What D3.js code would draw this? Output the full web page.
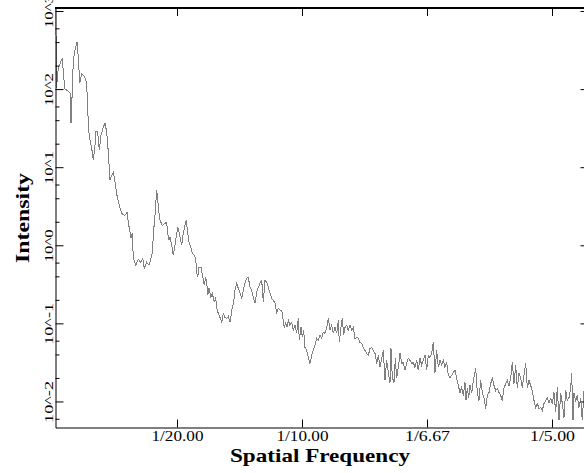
<!DOCTYPE html>
<html><head><meta charset="utf-8">
<script src="https://cdn.jsdelivr.net/npm/d3@7/dist/d3.min.js"></script>
<style>body{margin:0;background:#fff;} svg{display:block;}</style>
</head><body>
<script>
// ---- data ----
const frequency = [
0.0014,0.0018,0.00252,0.00412,0.0046,0.0052,0.00652,0.0072,0.0076,0.00812,
0.00852,0.0092,0.01,0.01052,0.01108,0.01188,0.01292,0.01372,0.01428,0.01452,
0.0152,0.01588,0.01652,0.0172,0.0176,0.01828,0.01892,0.0196,0.02052,0.0212,
0.02188,0.02252,0.0232,0.02388,0.02452,0.0252,0.02588,0.02652,0.0272,0.02812,
0.0292,0.03,0.03052,0.0316,0.03212,0.03252,0.03348,0.03452,0.03548,0.03628,
0.03692,0.03788,0.0388,0.0396,0.04012,0.04068,0.0412,0.04188,0.04228,0.0428,
0.0432,0.04412,0.0452,0.04588,0.04628,0.0468,0.0472,0.04788,0.04852,0.04948,
0.05028,0.0508,0.05132,0.05188,0.05252,0.0532,0.05372,0.05428,0.0548,0.0556,
0.05612,0.05692,0.05748,0.05788,0.05828,0.0588,0.0596,0.06012,0.06092,0.06148,
0.06188,0.06228,0.0628,0.0636,0.06412,0.06492,0.06548,0.06588,0.06652,0.0672,
0.06788,0.06852,0.0692,0.06988,0.07052,0.0712,0.07212,0.07268,0.0732,0.07388,
0.07452,0.0752,0.07588,0.07652,0.0772,0.07788,0.07852,0.0792,0.07988,0.08052,
0.0812,0.08188,0.08252,0.0832,0.08388,0.08452,0.0852,0.08588,0.08652,0.0872,
0.08788,0.08852,0.0892,0.08988,0.09052,0.0912,0.09188,0.09252,0.09292,0.09348,
0.094,0.09452,0.0952,0.09588,0.09652,0.0972,0.09788,0.09852,0.09892,0.0996,
0.10012,0.10068,0.1012,0.10188,0.10252,0.1032,0.10388,0.10452,0.1052,0.10588,
0.10652,0.1072,0.10788,0.10852,0.1092,0.10988,0.11052,0.1112,0.11188,0.11252,
0.1132,0.11388,0.11452,0.11492,0.1156,0.11612,0.11668,0.1172,0.11788,0.11852,
0.1192,0.11988,0.12052,0.1212,0.12188,0.12252,0.1232,0.12388,0.12452,0.1252,
0.12588,0.12652,0.1272,0.12788,0.12852,0.1292,0.12988,0.13052,0.1312,0.13188,
0.13252,0.1332,0.13388,0.13452,0.1352,0.1356,0.13612,0.1368,0.13732,0.13788,
0.13852,0.1392,0.13988,0.14052,0.1412,0.14188,0.14252,0.1432,0.14388,0.14452,
0.1452,0.14588,0.14652,0.1472,0.14788,0.14852,0.1492,0.14988,0.15052,0.1512,
0.15188,0.15252,0.1532,0.15388,0.15452,0.1552,0.15588,0.15652,0.1572,0.15788,
0.15852,0.1592,0.15988,0.16052,0.1612,0.16188,0.16252,0.1632,0.16388,0.16452,
0.1652,0.1656,0.16612,0.16668,0.1672,0.16788,0.16852,0.16948,0.17012,0.1708,
0.17148,0.17212,0.1728,0.17348,0.17412,0.1748,0.17548,0.17612,0.1768,0.17748,
0.17812,0.1788,0.17948,0.18012,0.1808,0.18148,0.18212,0.1828,0.18348,0.18412,
0.1848,0.18548,0.18612,0.1868,0.18748,0.18812,0.1888,0.18948,0.19012,0.1908,
0.19148,0.19212,0.1928,0.19348,0.19412,0.1948,0.19548,0.19612,0.1968,0.19748,
0.19812,0.1988,0.19948,0.20012,0.2008,0.20148,0.20212,0.2028,0.20348,0.20412,
0.2048,0.20548,0.20612,0.2068,0.20748,0.20788,0.2084,0.2088,0.20948,0.21012,
0.2108,0.21148,0.21212,0.2128,0.2136
];
const intensity = [
2500,103,186,250,151,100,94.3,88.9,36.6,97.1,
235,316,401,257,119,156,147,123,68.1,31.6,
22.2,17.5,12.3,19.1,28.9,28.1,16.5,25.7,32.6,36.6,
28.1,15.6,6.81,7.89,8.63,6.42,4.51,3.66,2.98,2.50,
2.42,2.65,1.97,1.23,1.43,0.681,0.554,0.662,0.605,0.681,
0.507,0.605,0.554,0.681,0.790,1.56,2.42,5.07,3.78,2.57,
2.09,1.80,1.91,1.97,1.43,1.16,1.27,1.00,0.744,1.16,
1.70,1.47,1.23,1.00,1.43,1.80,2.09,1.43,1.09,0.915,
0.790,0.744,0.681,0.451,0.389,0.522,0.522,0.425,0.307,0.389,
0.345,0.229,0.281,0.215,0.243,0.186,0.215,0.156,0.134,0.119,
0.103,0.134,0.119,0.116,0.123,0.103,0.160,0.186,0.265,0.326,
0.281,0.243,0.209,0.265,0.326,0.378,0.389,0.290,0.265,0.215,
0.181,0.250,0.290,0.326,0.356,0.186,0.356,0.336,0.290,0.243,
0.209,0.197,0.181,0.138,0.156,0.147,0.147,0.109,0.0863,0.103,
0.0889,0.109,0.0943,0.103,0.0813,0.0943,0.0745,0.116,0.0605,0.0889,
0.0662,0.0813,0.0492,0.0451,0.0366,0.0307,0.0389,0.0451,0.0522,0.0642,
0.0605,0.0702,0.0642,0.0767,0.0745,0.0889,0.116,0.0813,0.0943,0.0745,
0.0889,0.0745,0.109,0.0571,0.0889,0.116,0.0702,0.0889,0.0943,0.0813,
0.0943,0.0813,0.0889,0.0642,0.0662,0.0642,0.0571,0.0554,0.0492,0.0451,
0.0412,0.0389,0.0478,0.0492,0.0451,0.0412,0.0307,0.0389,0.0273,0.0356,
0.0451,0.0186,0.0336,0.0235,0.0175,0.0478,0.0203,0.0175,0.0356,0.0197,
0.0273,0.0412,0.0307,0.0316,0.0250,0.0316,0.0356,0.0336,0.0307,0.0316,
0.0273,0.0336,0.0250,0.0356,0.0290,0.0336,0.0389,0.0250,0.0389,0.0366,
0.0412,0.0571,0.0235,0.0451,0.0273,0.0336,0.0290,0.0336,0.0273,0.0316,
0.0215,0.0203,0.0215,0.0235,0.0250,0.0197,0.0160,0.0130,0.0151,0.0119,
0.0175,0.0103,0.0147,0.0112,0.0160,0.0127,0.0186,0.0265,0.0130,0.0103,
0.0186,0.0130,0.0112,0.00813,0.0119,0.0130,0.0170,0.0197,0.0160,0.0138,
0.0147,0.0130,0.0119,0.0103,0.0147,0.0170,0.0186,0.0160,0.0197,0.0316,
0.0170,0.0290,0.0151,0.0229,0.0197,0.0151,0.0215,0.0307,0.0151,0.0186,
0.0160,0.0138,0.0103,0.00838,0.00943,0.00813,0.00838,0.00767,0.00943,0.0103,
0.0112,0.00971,0.0109,0.00943,0.0130,0.00723,0.0151,0.00571,0.0130,0.00943,
0.00624,0.0138,0.0103,0.0112,0.0151,0.0229,0.00571,0.0127,0.0103,0.0119,
0.00838,0.0109,0.00571,0.0138,0.0103
];
const xTickValues = [0.05, 0.1, 0.15, 0.2];
const xTickLabels = ["1/20.00", "1/10.00", "1/6.67", "1/5.00"];
const yTickValues = [1e3, 1e2, 1e1, 1e0, 1e-1, 1e-2];
const yTickLabels = ["10^3", "10^2", "10^1", "10^0", "10^-1", "10^-2"];
const yMinorTickValues = [600,400,200,60,40,20,6,4,2,0.6,0.4,0.2,0.06,0.04,0.02,0.006];
const xTitle = "Spatial Frequency";
const yTitle = "Intensity";

// ---- layout ----
const W = 584, H = 473;
const L = 55.5, R = 585.5, T = 8, B = 427.5;

const svg = d3.select("body").append("svg").attr("width", W).attr("height", H);

const x = d3.scaleLinear().domain([0.0014, 0.2134]).range([L, R]);
const y = d3.scaleLog().domain([0.00464, 1093]).range([B, T]);

svg.append("defs").append("clipPath").attr("id", "plot")
  .append("rect").attr("x", L).attr("y", T).attr("width", R - L).attr("height", B - T);

// data line
const pts = frequency.map((f, i) => [f, intensity[i]]);
const line = d3.line().x(d => x(d[0])).y(d => y(d[1]));
svg.append("path").datum(pts)
  .attr("clip-path", "url(#plot)")
  .attr("fill", "none").attr("stroke", "#808080").attr("stroke-width", 1)
  .attr("shape-rendering", "crispEdges")
  .attr("d", line);

const fontTick = "'Liberation Serif', 'Times New Roman', serif";

// bottom axis
const gx = svg.append("g").attr("transform", `translate(0,${B})`)
  .call(d3.axisBottom(x).tickValues(xTickValues).tickSize(-8).tickSizeOuter(0)
    .tickFormat((d, i) => xTickLabels[i]));
gx.select(".domain").attr("stroke", "#000");
gx.selectAll(".tick line").attr("stroke", "#000");
gx.selectAll(".tick text")
  .attr("y", 13).attr("dy", 0)
  .attr("font-family", fontTick).attr("font-size", 15).attr("fill", "#000")
  .attr("textLength", (d, i) => xTickLabels[i].length > 6 ? 52 : 45)
  .attr("lengthAdjust", "spacingAndGlyphs");

// top axis (ticks only)
const gt = svg.append("g").attr("transform", `translate(0,${T})`)
  .call(d3.axisTop(x).tickValues(xTickValues).tickSize(-8).tickSizeOuter(0).tickFormat(""));
gt.select(".domain").remove();
gt.selectAll(".tick line").attr("stroke", "#000");
svg.append("line").attr("x1", L - 0.5).attr("x2", W).attr("y1", T).attr("y2", T)
  .attr("stroke", "#000").attr("stroke-width", 2);

// left axis
const gy = svg.append("g").attr("transform", `translate(${L},0)`)
  .call(d3.axisLeft(y).tickValues(yTickValues).tickSize(-8).tickSizeOuter(0)
    .tickFormat((d, i) => yTickLabels[i]));
gy.select(".domain").attr("stroke", "#000");
gy.selectAll(".tick line").attr("stroke", "#000");
gy.selectAll(".tick text")
  .attr("text-anchor", "middle")
  .attr("transform", "rotate(-90)")
  .attr("x", 0).attr("y", -2.5).attr("dy", 0)
  .attr("font-family", fontTick).attr("font-size", 13).attr("fill", "#000")
  .attr("textLength", (d, i) => yTickLabels[i].length > 4 ? 42 : 33)
  .attr("lengthAdjust", "spacingAndGlyphs");

// left minor ticks
const gym = svg.append("g").attr("transform", `translate(${L},0)`)
  .call(d3.axisLeft(y).tickValues(yMinorTickValues).tickSize(-4).tickSizeOuter(0).tickFormat(""));
gym.select(".domain").remove();
gym.selectAll(".tick line").attr("stroke", "#000");

// right axis ticks
const gr = svg.append("g").attr("transform", `translate(${R},0)`)
  .call(d3.axisLeft(y).tickValues(yTickValues).tickSize(5).tickSizeOuter(0).tickFormat(""));
gr.select(".domain").remove();
gr.selectAll(".tick line").attr("stroke", "#000");

// titles
svg.append("text").attr("x", 320).attr("y", 462)
  .attr("text-anchor", "middle")
  .attr("font-family", fontTick).attr("font-weight", "bold").attr("font-size", 19)
  .attr("textLength", 180).attr("lengthAdjust", "spacingAndGlyphs")
  .text(xTitle);
svg.append("text").attr("transform", "translate(29,218) rotate(-90)")
  .attr("text-anchor", "middle")
  .attr("font-family", fontTick).attr("font-weight", "bold").attr("font-size", 19)
  .attr("textLength", 90).attr("lengthAdjust", "spacingAndGlyphs")
  .text(yTitle);
</script>
</body></html>
